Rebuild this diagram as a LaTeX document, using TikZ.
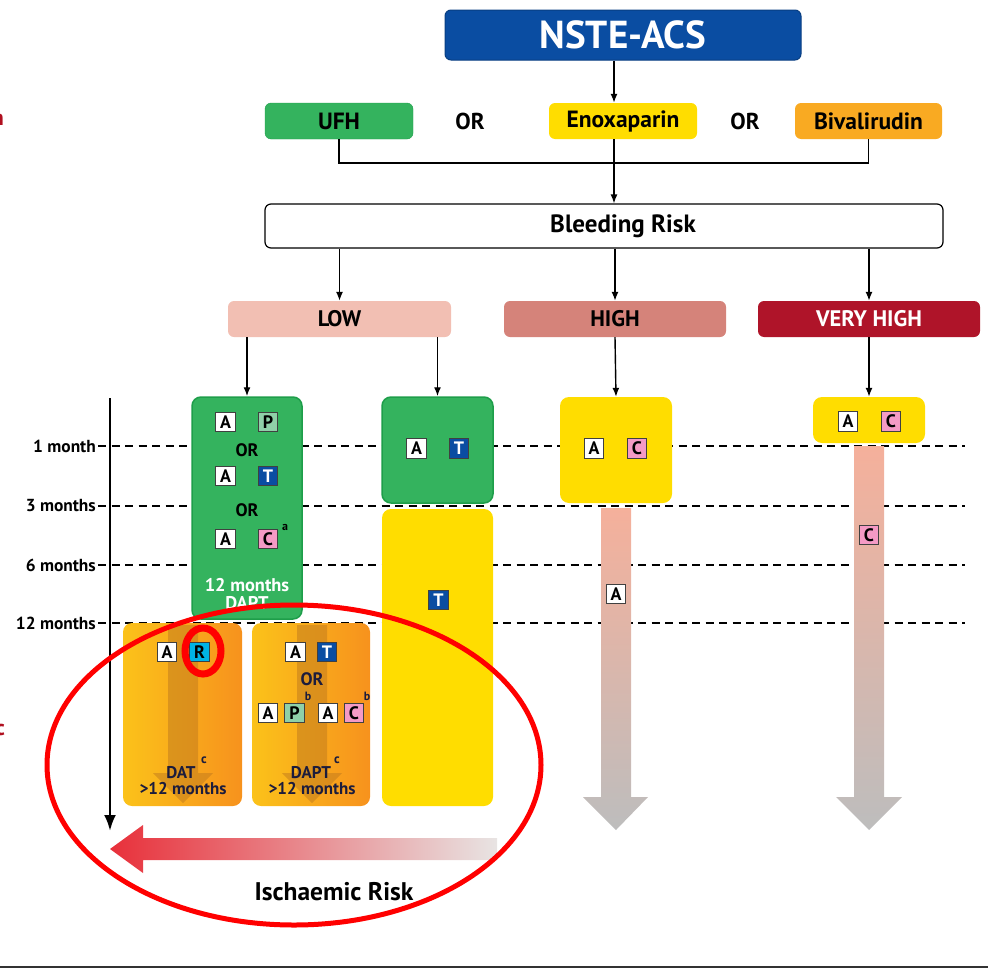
\documentclass[tikz,border=0pt]{standalone}
\usepackage{fontspec}
\setmainfont{PT Sans}
\usetikzlibrary{arrows.meta}
\definecolor{nblue}{HTML}{0A4DA2}
\definecolor{ugreen}{HTML}{34B35E}
\definecolor{ugreenb}{HTML}{1E9E4A}
\definecolor{yel}{HTML}{FFDD00}
\definecolor{orng}{HTML}{F9AA22}
\definecolor{lowc}{HTML}{F2BFB3}
\definecolor{highc}{HTML}{D5837A}
\definecolor{vhigh}{HTML}{AF1429}
\definecolor{pgreen}{HTML}{8FD0A8}
\definecolor{cpink}{HTML}{F49AC5}
\definecolor{rcyan}{HTML}{00B3E6}
\definecolor{orL}{HTML}{FBC21A}
\definecolor{orR}{HTML}{F7921D}
\definecolor{arrT}{HTML}{F5B09B}
\definecolor{arrB}{HTML}{BDBDBD}
\definecolor{ischL}{HTML}{E8303A}
\definecolor{ischR}{HTML}{E8E4E3}
\definecolor{navy}{HTML}{1C1C3C}
\definecolor{dkred}{HTML}{B01020}
\definecolor{inarr}{HTML}{B8741E}
\newcommand\myfs[1]{\fontsize{#1}{#1}\selectfont}
\begin{document}
\begin{tikzpicture}[x=1pt,y=-1pt,
  box/.style={rounded corners=6pt, minimum height=36pt, inner sep=0pt, font=\bfseries\myfs{23.5}},
  lb/.style={draw=black!75, line width=0.8pt, minimum size=19.5pt, inner sep=0pt, font=\bfseries\myfs{18}},
  lA/.style={lb, fill=white},
  lP/.style={lb, fill=pgreen},
  lT/.style={lb, fill=nblue, text=white},
  lC/.style={lb, fill=cpink},
  lR/.style={lb, fill=rcyan},
  cont/.style={rounded corners=9pt, inner sep=0pt},
  arr/.style={-{Latex[length=9pt,width=7pt]}, line width=1.4pt},
  dline/.style={line width=1.8pt, dash pattern=on 8pt off 5.5pt},
  tlab/.style={anchor=east, font=\bfseries\myfs{17.4}, inner sep=0pt},
  ortxt/.style={font=\bfseries\myfs{18}, inner sep=0pt},
  sup/.style={font=\bfseries\myfs{12}, inner sep=0pt},
  inarrow/.style={fill=inarr, opacity=0.45}
]
\useasboundingbox (0,0) rectangle (988,969);

% red fragments at left edge
\node[anchor=east, text=dkred, font=\bfseries\myfs{22}, inner sep=0pt] (fragA) at (4,120) {n};
\node[anchor=east, text=dkred, font=\bfseries\myfs{22}, inner sep=0pt] (fragB) at (5,730) {c};

% top flow
\node[box, fill=nblue, draw=nblue!80!black, line width=1pt, minimum width=356pt, minimum height=50pt, text=white, font=\bfseries\myfs{39}] (nste) at (623,35) {NSTE-ACS};
\node[box, fill=ugreen, draw=ugreenb, minimum width=148pt] (ufh) at (339,121) {UFH};
\node[ortxt, font=\bfseries\myfs{23}] (or1) at (470,121) {OR};
\node[box, fill=yel, minimum width=148pt] (enox) at (623,121) {Enoxaparin};
\node[ortxt, font=\bfseries\myfs{23}] (or2) at (745,121) {OR};
\node[box, fill=orng, minimum width=147pt] (biv) at (868.5,121) {Bivalirudin};
\coordinate (jn) at (614,163);
\draw[arr] (nste.south -| jn) -- (enox.north -| jn);
\draw[line width=1.4pt] (ufh.south) |- (jn) -| (biv.south);
\node[box, draw=black, line width=1.2pt, fill=white, minimum width=678pt, minimum height=44pt] (bleed) at (604,226) {};
\node[font=\bfseries\myfs{25}, inner sep=0pt] (bleedtxt) at (623,226) {Bleeding Risk};
\draw[arr] (enox.south -| jn) -- (bleed.north -| jn);

\node[box, fill=lowc, minimum width=223pt, font=\bfseries\myfs{22.5}] (low) at (339.5,319) {LOW};
\node[box, fill=highc, minimum width=222pt, font=\bfseries\myfs{22.5}] (high) at (615,319) {HIGH};
\node[box, fill=vhigh, minimum width=222pt, text=white, font=\bfseries\myfs{22.5}] (vh) at (869,319) {VERY HIGH};
\draw[arr] (bleed.south -| low.north) -- (low.north);
\draw[arr] (bleed.south -| high.north) -- (high.north);
\draw[arr] (bleed.south -| vh.north) -- (vh.north);

% time axis labels and dashed lines
\node[tlab] (t1) at (96,446) {1 month};
\node[tlab] (t3) at (96,506) {3 months};
\node[tlab] (t6) at (96,565) {6 months};
\node[tlab] (t12) at (96,623) {12 months};
\coordinate (e1) at (965,446);
\coordinate (e3) at (965,506);
\coordinate (e6) at (965,565);
\coordinate (e12) at (965,623);
\draw[dline] ([xshift=2pt]t1.east) -- (e1);
\draw[dline] ([xshift=2pt]t3.east) -- (e3);
\draw[dline] ([xshift=2pt]t6.east) -- (e6);
\draw[dline] ([xshift=2pt]t12.east) -- (e12);
\coordinate (axtop) at (110,398);
\coordinate (axbot) at (110,831);
\draw[-{Latex[length=16pt,width=12pt]}, line width=2.6pt] (axtop) -- (axbot);

% LOW column 1: green DAPT
\node[cont, fill=ugreen, draw=ugreenb, line width=1.5pt, minimum width=110pt, minimum height=222pt] (dapt) at (247,508) {};
\node[lA] (a1) at (225.5,422) {A};
\node[lP] (p1) at (268,422) {P};
\node[ortxt] (o1) at (247,450) {OR};
\node[lA] (a2) at (225.5,476) {A};
\node[lT] (tt2) at (268,476) {T};
\node[ortxt] (o2) at (247,510) {OR};
\node[lA] (a3) at (225.5,539) {A};
\node[lC] (c3) at (268,539) {C};
\node[sup] (sa) at (285,527) {a};
\node[font=\bfseries\myfs{18.4}, text=white, inner sep=0pt] (m12) at (247,585) {12 months};
\node[font=\bfseries\myfs{18.4}, text=white, inner sep=0pt, anchor=north] (m12b) at (247,596) {DAPT};

% LOW column 2
\node[cont, fill=ugreen, draw=ugreenb, line width=1.5pt, minimum width=111pt, minimum height=106pt] (g2) at (437.5,450) {};
\node[lA] (a4) at (416.5,448.5) {A};
\node[lT] (t4) at (459,448.5) {T};
\node[cont, fill=yel, minimum width=111pt, minimum height=297pt] (y2) at (437.5,657.5) {};
\draw[arr] (low.south -| dapt.north) -- (dapt.north);
\draw[arr] (low.south -| g2.north) -- (g2.north);
\node[lT] (t5) at (438.5,600) {T};

% orange boxes
\node[cont, left color=orL, right color=orR, minimum width=119pt, minimum height=183pt] (or1b) at (182.5,714.5) {};
\node[cont, left color=orL, right color=orR, minimum width=118pt, minimum height=183pt] (or2b) at (311,714.5) {};
\fill[inarrow] (168,625) -- (198,625) -- (198,773) -- (213,773) -- (183,803) -- (153,773) -- (168,773) -- cycle;
\fill[inarrow] (297,625) -- (327,625) -- (327,773) -- (342,773) -- (312,803) -- (282,773) -- (297,773) -- cycle;
\node[lA] (a6) at (167,652) {A};
\node[lR] (r6) at (199.5,652) {R};
\node[font=\bfseries\myfs{17}, text=navy, inner sep=0pt] (dat) at (181,773) {DAT};
\node[sup, text=navy, font=\bfseries\myfs{13}] (datc) at (204,760) {c};
\node[font=\bfseries\myfs{17}, text=navy, inner sep=0pt] (datm) at (183,789) {>12 months};
\node[lA] (a7) at (295.5,652) {A};
\node[lT] (t7) at (327,652) {T};
\node[ortxt, text=navy] (o7) at (312,679) {OR};
\node[lA] (a8) at (268,713) {A};
\node[lP] (p8) at (294.5,713) {P};
\node[sup, text=navy] (sb1) at (308,696) {b};
\node[lA] (a9) at (328,713) {A};
\node[lC] (c9) at (354,713) {C};
\node[sup, text=navy] (sb2) at (367,696) {b};
\node[font=\bfseries\myfs{17}, text=navy, inner sep=0pt] (dapt2) at (311,773) {DAPT};
\node[sup, text=navy, font=\bfseries\myfs{13}] (daptc) at (337,760) {c};
\node[font=\bfseries\myfs{17}, text=navy, inner sep=0pt] (dapt2m) at (312,789) {>12 months};

% HIGH column
\node[cont, fill=yel, minimum width=112pt, minimum height=106pt] (hy) at (616,450) {};
\draw[arr] (high.south) -- (hy.north);
\node[lA] (ha) at (594,448.5) {A};
\node[lC] (hc) at (637,448.5) {C};
\shade[top color=arrT, bottom color=arrB] (601,508) -- (631,508) -- (631,797) -- (648,797) -- (616,830) -- (583,797) -- (601,797) -- cycle;
\node[lA] (ha2) at (616,594) {A};

% VERY HIGH column
\node[cont, fill=yel, minimum width=112pt, minimum height=46pt] (vy) at (869,420) {};
\draw[arr] (vh.south) -- (vy.north);
\node[lA] (va) at (848,421.5) {A};
\node[lC] (vc) at (891,421.5) {C};
\shade[top color=arrT, bottom color=arrB] (854,446) -- (884,446) -- (884,797) -- (902,797) -- (869,830) -- (836,797) -- (854,797) -- cycle;
\node[lC] (vc2) at (869,535) {C};

% ischaemic risk arrow
\shade[left color=ischL, right color=ischR] (497,838) -- (143,838) -- (143,825) -- (110,849) -- (143,873) -- (143,860) -- (497,860) -- cycle;
\node[font=\bfseries\myfs{25.5}, inner sep=0pt] (isch) at (334,892) {Ischaemic Risk};

% red annotations
\draw[red, line width=5pt] (294,765) ellipse [x radius=247, y radius=160];
\draw[red, line width=7pt] (203,651) ellipse [x radius=18, y radius=23];

% bottom rule
\draw[black!80, line width=2pt] (0,967) -- (988,967);
\end{tikzpicture}
\end{document}
